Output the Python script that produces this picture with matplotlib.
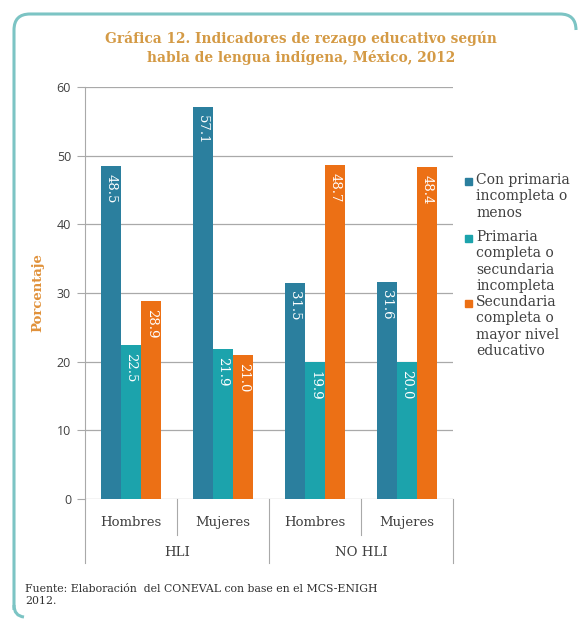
import matplotlib
matplotlib.use("Agg")
import matplotlib.pyplot as plt
import numpy as np
from matplotlib.path import Path
from matplotlib.patches import PathPatch

# ---- data ----
subgroups = ["Hombres", "Mujeres", "Hombres", "Mujeres"]
groups = ["HLI", "NO HLI"]
series_names = ["Con primaria\nincompleta o\nmenos",
                "Primaria\ncompleta o\nsecundaria\nincompleta",
                "Secundaria\ncompleta o\nmayor nivel\neducativo"]
primaria_incompleta = [48.5, 57.1, 31.5, 31.6]
primaria_completa = [22.5, 21.9, 19.9, 20.0]
secundaria_completa = [28.9, 21.0, 48.7, 48.4]
yticks = [0, 10, 20, 30, 40, 50, 60]

colors = ["#2B7F9E", "#1CA3AC", "#EC7015"]
grid_c = "#A9A9A9"
text_c = "#404040"
title_c = "#D49A45"
serif = ["DejaVu Serif"]

fig = plt.figure(figsize=(5.83, 6.21), dpi=100)
ax = fig.add_axes([85/583, 1-499/621, 368/583, 412/621])

x = np.arange(len(subgroups)) + 0.5
bw = 0.22
all_series = [primaria_incompleta, primaria_completa, secundaria_completa]
for i, (vals, c) in enumerate(zip(all_series, colors)):
    xs = x + (i - 1) * bw
    ax.bar(xs, vals, width=bw, color=c, zorder=3)
    for xi, v in zip(xs, vals):
        ax.text(xi, v - 1.2, f"{v:.1f}", rotation=270, ha="center", va="top",
                color="white", fontsize=9.5, family=serif, zorder=4)

ax.set_xlim(0, 4)
ax.set_ylim(0, 60)
ax.set_yticks(yticks)
ax.set_yticklabels([str(t) for t in yticks], fontsize=9, color=text_c,
                   family=["Open Sans", "DejaVu Sans"])
ax.tick_params(axis="y", length=6, color=grid_c, width=0.8, pad=4)
ax.set_xticks([])
for s in ["top", "right", "bottom"]:
    ax.spines[s].set_visible(False)
ax.spines["left"].set_color(grid_c)
ax.spines["left"].set_linewidth(0.8)
for t in yticks:
    ax.axhline(t, color=grid_c, lw=0.9, zorder=1)

ax.set_ylabel("Porcentaje", color="#E0913A", fontsize=9.5, family=serif,
              fontweight="bold", labelpad=9)

# category axis
ax.plot([0, 0], [0, -0.155], transform=ax.transAxes, color=grid_c, lw=0.8, clip_on=False)
for xb in [1, 3]:
    ax.plot([xb/4, xb/4], [0, -0.087], transform=ax.transAxes, color=grid_c, lw=0.8, clip_on=False)
for xb in [2, 4]:
    ax.plot([xb/4, xb/4], [0, -0.155], transform=ax.transAxes, color=grid_c, lw=0.8, clip_on=False)
for xi, lab in zip(x, subgroups):
    ax.text(xi/4, -0.058, lab, transform=ax.transAxes, ha="center", va="center",
            fontsize=9.5, color=text_c, family=serif)
for gi, g in enumerate(groups):
    ax.text((gi*2+1)/4, -0.13, g, transform=ax.transAxes, ha="center", va="center",
            fontsize=9.5, color=text_c, family=serif)

# legend
leg_tops = [181, 238, 303]
for name, c, ty in zip(series_names, colors, leg_tops):
    fig.patches.append(plt.Rectangle((465/583, 1-(ty+4)/621), 7/583, 7/621,
                                     transform=fig.transFigure, color=c))
    fig.text(476/583, 1-(ty-8)/621, name, ha="left", va="top", fontsize=10,
             color=text_c, family=serif, linespacing=1.22)

# title
fig.text(301/583, 1-48/621, "Gráfica 12. Indicadores de rezago educativo según\nhabla de lengua indígena, México, 2012",
         ha="center", va="center", fontsize=9.9, color=title_c, fontweight="bold",
         family=serif, linespacing=1.4)

# footer
fig.text(25/583, 1-595/621, "Fuente: Elaboración  del CONEVAL con base en el MCS-ENIGH\n2012.",
         ha="left", va="center", fontsize=7.8, color="#303030", family=serif, linespacing=1.3)

# frame
W, H = 583, 621
r = 16
pts = [(14, 610), (14, 14 + r), (14, 14), (14 + r, 14), (576 - r, 14), (576, 14), (576, 14 + r)]
codes = [Path.MOVETO, Path.LINETO, Path.CURVE3, Path.CURVE3, Path.LINETO, Path.CURVE3, Path.CURVE3]
verts = [(px / W, 1 - py / H) for px, py in pts]
fig.patches.append(PathPatch(Path(verts, codes), transform=fig.transFigure,
                             fill=False, edgecolor="#7CC4C4", lw=2.2))
pts2 = [(14, 605), (14, 616), (24, 617)]
verts2 = [(px / W, 1 - py / H) for px, py in pts2]
fig.patches.append(PathPatch(Path(verts2, [Path.MOVETO, Path.CURVE3, Path.CURVE3]),
                             transform=fig.transFigure, fill=False, edgecolor="#7CC4C4", lw=2.2))

fig.savefig("out.png", dpi=100)
